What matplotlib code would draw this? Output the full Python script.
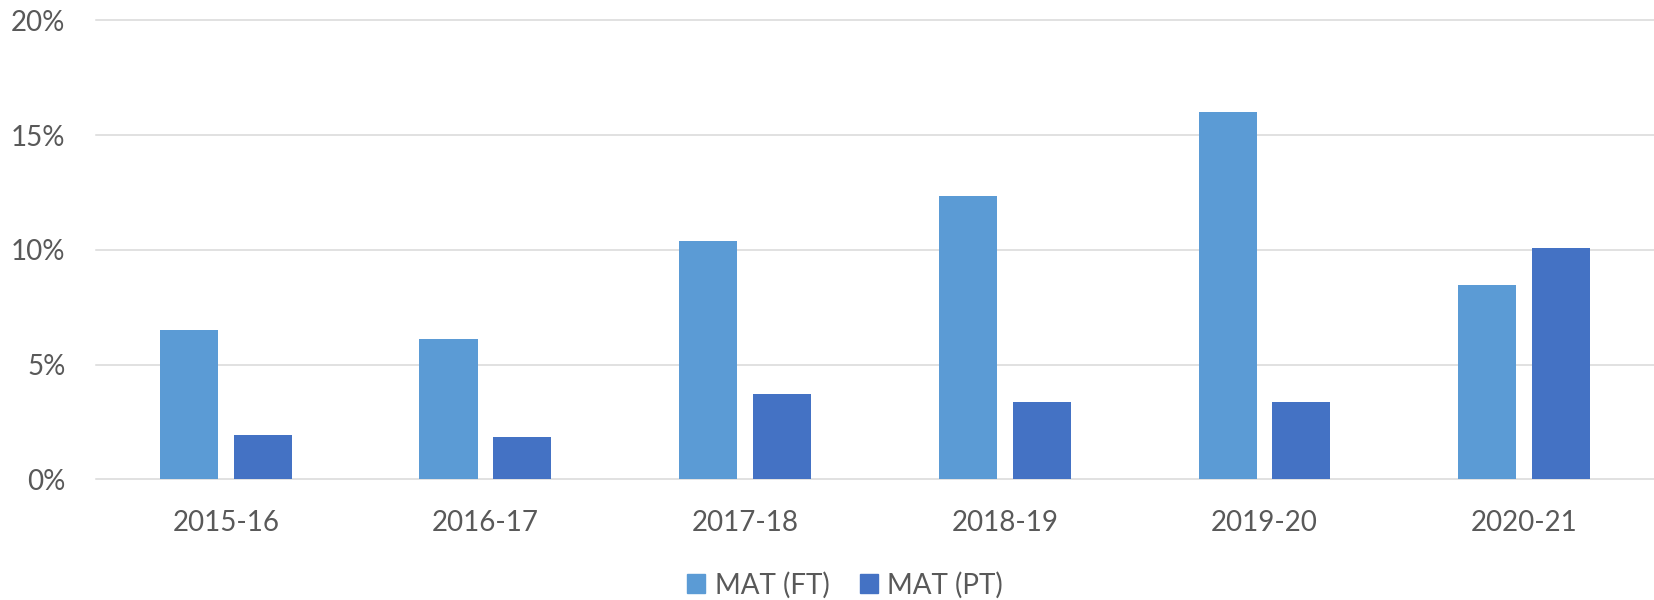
import numpy as np
import matplotlib
matplotlib.use('Agg')
import matplotlib.pyplot as plt
from matplotlib.ticker import PercentFormatter
from matplotlib.patches import Patch

# ============================================
# Data
# ============================================
years = ['2015-16', '2016-17', '2017-18', '2018-19', '2019-20', '2020-21']
mat_ft = [6.49, 6.13, 10.40, 12.34, 16.02, 8.45]
mat_pt = [1.93, 1.86, 3.70, 3.37, 3.37, 10.07]
y_ticks = [0, 5, 10, 15, 20]

FT_COLOR = '#5B9BD5'
PT_COLOR = '#4472C4'
GRID_COLOR = '#D9D9D9'
TEXT_COLOR = '#595959'

plt.rcParams['font.family'] = ['Lato', 'DejaVu Sans']

fig = plt.figure(figsize=(16.54, 6.0), dpi=100)
ax = fig.add_axes([0.058, 0.2012, 0.942, 0.765])

x = np.arange(len(years))
offset = 0.142
width = 0.224
ax.bar(x - offset, mat_ft, width, color=FT_COLOR, zorder=3)
ax.bar(x + offset, mat_pt, width, color=PT_COLOR, zorder=3)

# gridlines (drawn by hand so the edge lines are not clipped)
for t in y_ticks:
    ax.axhline(t, color=GRID_COLOR, lw=1.1, zorder=1, clip_on=False)

ax.set_xlim(-0.5, len(years) - 0.5)
ax.set_ylim(0, 20)
ax.set_yticks(y_ticks)
ax.yaxis.set_major_formatter(PercentFormatter(decimals=0))
ax.set_xticks(x)
ax.set_xticklabels(years)

for s in ax.spines.values():
    s.set_visible(False)
ax.tick_params(axis='both', length=0, labelsize=20, colors=TEXT_COLOR)
ax.tick_params(axis='y', pad=22)
ax.tick_params(axis='x', pad=22)

handles = [Patch(color=FT_COLOR, label='MAT (FT)'),
           Patch(color=PT_COLOR, label='MAT (PT)')]
leg = fig.legend(handles=handles, loc='center', bbox_to_anchor=(0.511, 0.025),
                 ncol=2, frameon=False, fontsize=20, handlelength=0.64,
                 handleheight=0.64, handletextpad=0.35, columnspacing=1.1)
for txt in leg.get_texts():
    txt.set_color(TEXT_COLOR)

fig.savefig('out.png', dpi=100)
